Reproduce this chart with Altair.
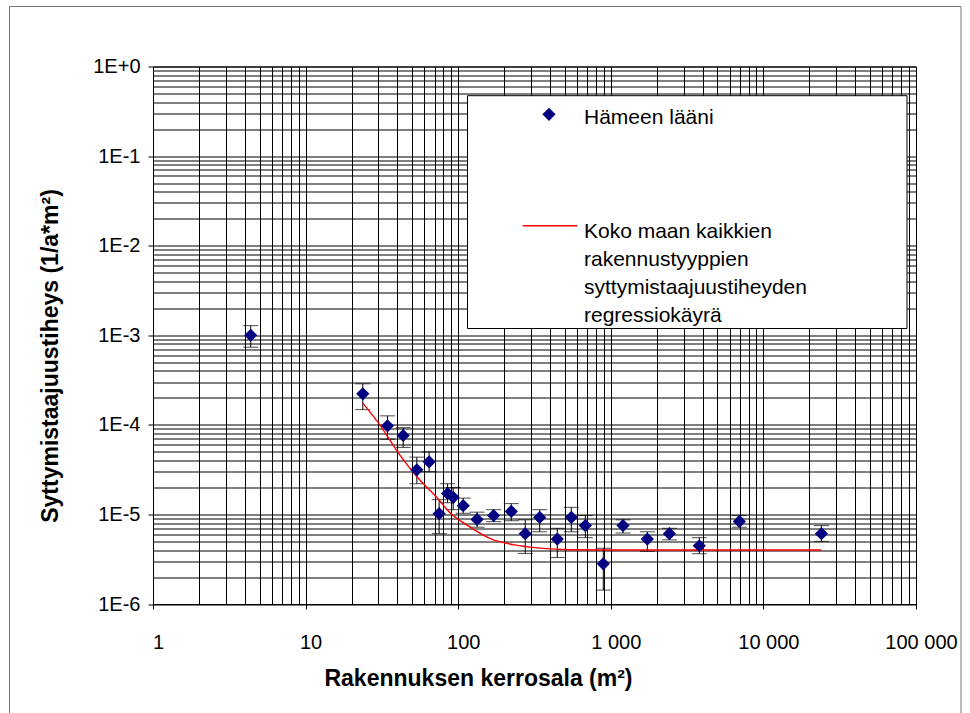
import json

import altair as alt
import pandas as pd

# Floor area of the building (m²) and ignition frequency density (1/a*m²), Häme province
area = [4.37, 23.7, 34.4, 43.6, 53.6, 64.5, 75, 85.2, 92.7, 107.9, 133, 170.7, 222.8,
        275, 342, 446, 551, 681, 893, 1202, 1735, 2420, 3802, 6960, 24000]
freq = [1.0e-3, 2.22e-4, 9.75e-5, 7.6e-5, 3.15e-5, 3.87e-5, 1.02e-5, 1.71e-5, 1.55e-5,
        1.25e-5, 8.8e-6, 9.7e-6, 1.08e-5, 6.1e-6, 9.25e-6, 5.3e-6, 9.25e-6, 7.5e-6,
        2.81e-6, 7.5e-6, 5.3e-6, 6.1e-6, 4.47e-6, 8.35e-6, 6.1e-6]
freq_hi = [1.28e-3, 2.87e-4, 1.26e-4, 9.3e-5, 4.36e-5, 5.0e-5, 1.46e-5, 2.2e-5, 2.0e-5,
           1.52e-5, 1.06e-5, 1.13e-5, 1.32e-5, 8.7e-6, 1.13e-5, 7.0e-6, 1.2e-5, 9.7e-6,
           4.2e-6, 8.7e-6, 6.4e-6, 7.0e-6, 5.5e-6, 9.7e-6, 7.5e-6]
freq_lo = [7.36e-4, 1.48e-4, 6.9e-5, 5.6e-5, 2.2e-5, 3.0e-5, 6.1e-6, 1.35e-5, 1.13e-5,
           1.03e-5, 7.2e-6, 8.3e-6, 8.5e-6, 3.67e-6, 6.4e-6, 3.3e-6, 6.4e-6, 5.5e-6,
           1.43e-6, 6.2e-6, 3.87e-6, 5.2e-6, 3.64e-6, 7.2e-6, 5.0e-6]

# Nationwide regression curve over all building types
curve_area = [23.7, 30, 41.5, 53, 75, 88, 113, 170, 230, 343, 540, 1000, 24000]
curve_freq = [1.75e-4, 1.05e-4, 4.6e-5, 2.7e-5, 1.45e-5, 1.05e-5, 7.7e-6, 5.2e-6,
              4.6e-6, 4.2e-6, 4.03e-6, 4.0e-6, 4.0e-6]

# Decade tick labels
x_labels = ["1", "10", "100", "1 000", "10 000", "100 000"]
y_labels = ["1E-6", "1E-5", "1E-4", "1E-3", "1E-2", "1E-1", "1E+0"]

series_name = "Hämeen lääni"
curve_name = ["Koko maan kaikkien", "rakennustyyppien",
              "syttymistaajuustiheyden", "regressiokäyrä"]
x_title = "Rakennuksen kerrosala (m²)"
y_title = "Syttymistaajuustiheys (1/a*m²)"

FONT = "Liberation Sans"
NAVY = "#000080"

# Log grid: every 1..9 multiple of each decade
x_grid = [m * 10 ** k for k in range(5) for m in range(1, 10)] + [100000]
y_grid = [m * 10.0 ** k for k in range(-6, 0) for m in range(1, 10)] + [1]

log10 = "log(datum.value)/LN10"
is_decade = f"abs({log10} - round({log10})) < 1e-6"
only_decades = {"condition": {"test": is_decade, "value": 1}, "value": 0}

x_scale = alt.Scale(type="log", domain=[1, 100000], nice=False)
y_scale = alt.Scale(type="log", domain=[1e-6, 1], nice=False)

common_axis = dict(
    grid=True, gridColor="black", gridWidth=1, gridOpacity=1,
    domainColor="black", domainWidth=1,
    tickColor="black", tickSize=5, tickWidth=1, tickOpacity=only_decades,
    labelFont=FONT, labelFontSize=20, labelColor="black",
    labelOverlap=False, labelFlush=False, labelBound=False,
    titleFont=FONT, titleFontSize=23, titleFontWeight="bold", titleColor="black",
    titleAlign="center", titleBaseline="middle",
)

x_axis = alt.Axis(
    values=x_grid,
    labelExpr=f"{is_decade} ? {json.dumps(x_labels)}[round({log10})] : ''",
    labelBaseline="middle", labelPadding=33, labelOffset=5,
    title=x_title, titleX=325, titleY=74,
    **common_axis,
)
y_axis = alt.Axis(
    values=y_grid,
    labelExpr=f"{is_decade} ? {json.dumps(y_labels)}[round({log10}) + 6] : ''",
    labelPadding=8,
    title=y_title, titleX=-103, titleY=289, titleAngle=270,
    **common_axis,
)

points = pd.DataFrame({"area": area, "freq": freq, "hi": freq_hi, "lo": freq_lo})
curve = pd.DataFrame({"area": curve_area, "freq": curve_freq})
single = pd.DataFrame({"k": [0]})

X = alt.X("area:Q", scale=x_scale, axis=x_axis)

# Outer chart frame
frame = alt.Chart(single).mark_rect(
    fillOpacity=0, stroke="#777777", strokeWidth=1
).encode(x=alt.value(-143.5), x2=alt.value(808), y=alt.value(-60), y2=alt.value(700))

# Error bars with caps
err = alt.Chart(points).mark_rule(color="black", strokeWidth=1).encode(
    x=X, y=alt.Y("lo:Q", scale=y_scale, axis=y_axis), y2="hi:Q"
)
caps = alt.Chart(points).transform_fold(["lo", "hi"], as_=["end", "val"]).mark_tick(
    orient="horizontal", size=15, thickness=1, color="black"
).encode(x=X, y=alt.Y("val:Q", scale=y_scale, axis=y_axis))

reg = alt.Chart(curve).mark_line(
    color="#ff0000", strokeWidth=1.4, interpolate="monotone"
).encode(x=X, y=alt.Y("freq:Q", scale=y_scale, axis=y_axis))

dots = alt.Chart(points).mark_point(
    shape="diamond", filled=True, size=175, color=NAVY, opacity=1
).encode(x=X, y=alt.Y("freq:Q", scale=y_scale, axis=y_axis))

# Legend box
leg_box = alt.Chart(single).mark_rect(fill="white", stroke="black", strokeWidth=1).encode(
    x=alt.value(314.5), x2=alt.value(754), y=alt.value(29.2), y2=alt.value(262)
)
leg_dot = alt.Chart(single).mark_point(
    shape="diamond", filled=True, size=175, color=NAVY, opacity=1
).encode(x=alt.value(396), y=alt.value(47.8))
leg_txt1 = alt.Chart(single).mark_text(
    text=series_name, align="left", baseline="alphabetic",
    font=FONT, fontSize=21, color="black"
).encode(x=alt.value(431), y=alt.value(57.5))
leg_line = alt.Chart(single).mark_rule(color="#ff0000", strokeWidth=1.4).encode(
    x=alt.value(369.7), x2=alt.value(424.3), y=alt.value(159.2)
)
leg_txt2 = alt.Chart(single).mark_text(
    text=curve_name, align="left", baseline="alphabetic", lineHeight=28,
    font=FONT, fontSize=21, color="black"
).encode(x=alt.value(431), y=alt.value(171.8))

chart = alt.layer(
    frame, err, caps, reg, dots, leg_box, leg_dot, leg_txt1, leg_line, leg_txt2
).properties(
    width=763, height=537.5,
    padding={"left": 153, "top": 66.5, "right": 54, "bottom": 109},
    autosize=alt.AutoSizeParams(type="none"),
    background="white",
).configure_view(stroke="black", strokeWidth=1)

chart.save("out.html", embed_options={"renderer": "svg", "actions": False})
